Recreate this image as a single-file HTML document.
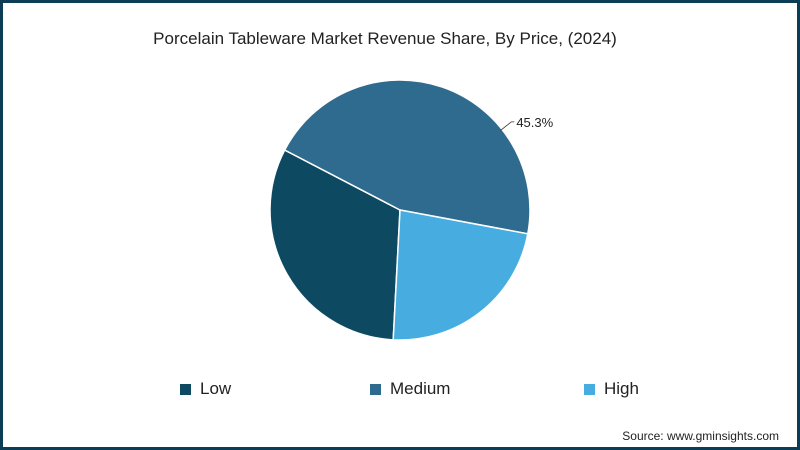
<!DOCTYPE html>
<html><head><meta charset="utf-8"><style>
html,body{margin:0;padding:0;background:#fff}
#frame{position:relative;width:800px;height:450px;box-sizing:border-box;border:3px solid #0c3d57;background:#fff;font-family:"Liberation Sans",sans-serif;overflow:hidden}
#title{position:absolute;left:0;width:764px;top:26px;text-align:center;font-size:17px;color:#222}
.leg{position:absolute;top:376px;font-size:17px;color:#222;display:flex;align-items:center}
.sw{width:11px;height:11px;margin-right:9px}
#src{position:absolute;right:18px;top:426px;font-size:12px;color:#222}
</style></head><body>
<div id="frame">
<div id="title">Porcelain Tableware Market Revenue Share, By Price, (2024)</div>
<svg id="pie" width="794" height="444" style="position:absolute;left:0;top:0"></svg>
<div class="leg" style="left:177px"><div class="sw" style="background:#0d4a62"></div>Low</div>
<div class="leg" style="left:367px"><div class="sw" style="background:#2f6b8e"></div>Medium</div>
<div class="leg" style="left:581px"><div class="sw" style="background:#47ade0"></div>High</div>
<div id="src">Source: www.gminsights.com</div>
</div>
<script>
const categories=["Low","Medium","High"];
const values=[31.8,45.3,22.9];
const labels=["","45.3%",""];
const colors=["#0d4a62","#2f6b8e","#47ade0"];
const svg=document.getElementById('pie');
const NS="http://www.w3.org/2000/svg";
const cx=397,cy=207,r=130,start=183;
const total=values.reduce((a,b)=>a+b,0);
function pt(deg,rad){const a=deg*Math.PI/180;return [cx+rad*Math.sin(a),cy-rad*Math.cos(a)];}
let ang=start;
values.forEach((v,i)=>{
  const sweep=v/total*360;
  const [x1,y1]=pt(ang,r),[x2,y2]=pt(ang+sweep,r);
  const p=document.createElementNS(NS,'path');
  p.setAttribute('d',`M${cx},${cy}L${x1},${y1}A${r},${r} 0 ${sweep>180?1:0} 1 ${x2},${y2}Z`);
  p.setAttribute('fill',colors[i]);p.setAttribute('stroke','#fff');p.setAttribute('stroke-width','1.5');
  
  
  svg.appendChild(p);
  if(labels[i]){
    const mid=ang+sweep*0.7;
    const [ax,ay]=pt(mid,r-2),[bx,by]=pt(mid,r+12);
    const l=document.createElementNS(NS,'polyline');
    l.setAttribute('points',`${ax},${ay} ${bx},${by} ${bx+3},${by}`);
    l.setAttribute('fill','none');l.setAttribute('stroke','#333');l.setAttribute('stroke-width','0.8');
    
    
    svg.appendChild(l);
    const t=document.createElementNS(NS,'text');
    t.setAttribute('x',bx+5);t.setAttribute('y',by+5);t.setAttribute('font-size','13');
    t.setAttribute('font-family','Liberation Sans, sans-serif');t.setAttribute('fill','#222');
    t.textContent=labels[i];
    
    
    svg.appendChild(t);
  }
  ang+=sweep;
});
</script>
</body></html>
